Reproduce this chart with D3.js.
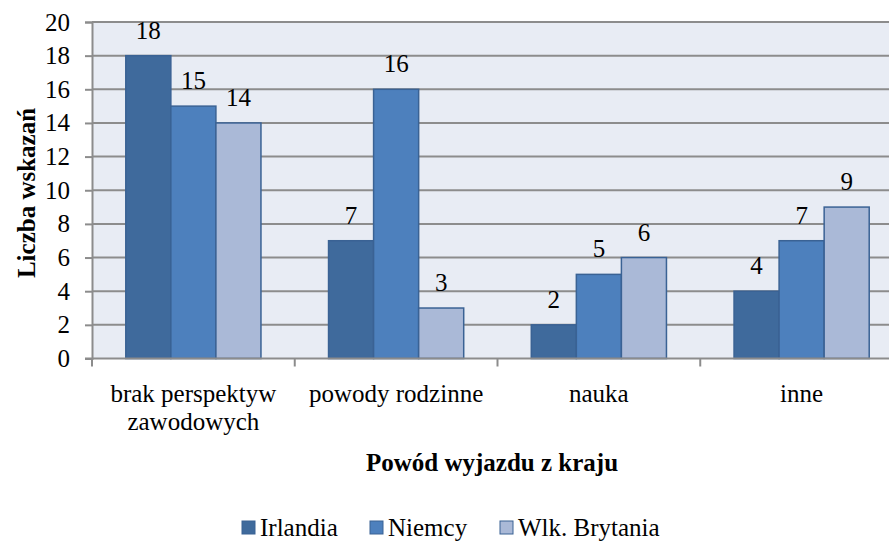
<!DOCTYPE html>
<html><head><meta charset="utf-8">
<script src="https://cdn.jsdelivr.net/npm/d3@7"></script>
<style>body{margin:0;background:#fff}svg{display:block}svg text{fill:#000}</style>
</head><body>
<svg id="c" width="889" height="542"></svg>
<script>
const categories = [["brak perspektyw","zawodowych"],["powody rodzinne"],["nauka"],["inne"]];
const seriesNames = ["Irlandia","Niemcy","Wlk. Brytania"];
const irlandia = [18,7,2,4];
const niemcy = [15,16,5,7];
const wlkBrytania = [14,3,6,9];
const yTicks = [0,2,4,6,8,10,12,14,16,18,20];
const colors = ["#3F6A9C","#4D80BD","#AAB9D7"];
const series = [irlandia, niemcy, wlkBrytania];

(function(){
const FF = "'Times New Roman', 'Liberation Serif', Tinos, 'DejaVu Serif', serif";
const FS = "25px";
const svg = d3.select("#c").style("font-family", FF);
const pLeft = 92, pRight = 903, pTop = 22, pBottom = 358.5;
const x = d3.scaleBand().domain(d3.range(categories.length)).range([pLeft, pRight]).paddingInner(0).paddingOuter(0);
const y = d3.scaleLinear().domain([0,20]).range([pBottom, pTop]);
const inner = d3.scaleBand().domain(d3.range(3)).range([0, x.bandwidth()]).paddingOuter(0.75).paddingInner(0);

svg.append("rect").attr("x",pLeft).attr("y",pTop).attr("width",pRight-pLeft).attr("height",pBottom-pTop).attr("fill","#E8ECF4");

svg.append("g").selectAll("line").data(yTicks.filter(d=>d>0)).join("line")
  .attr("x1",pLeft).attr("x2",pRight).attr("y1",d=>y(d)).attr("y2",d=>y(d))
  .attr("stroke","#8C8C8C").attr("stroke-width",2);

const g = svg.append("g");
series.forEach((s,si)=>{
  g.selectAll(".b"+si).data(s).join("rect").attr("class","b"+si)
    .attr("x",(d,i)=>x(i)+inner(si)).attr("y",d=>y(d))
    .attr("width",inner.bandwidth()).attr("height",d=>pBottom-y(d))
    .attr("fill",colors[si]).attr("stroke","#3A6294").attr("stroke-width",1.5);
  g.selectAll(".l"+si).data(s).join("text").attr("class","l"+si)
    .attr("x",(d,i)=>x(i)+inner(si)+inner.bandwidth()/2).attr("y",d=>y(d)-17)
    .attr("text-anchor","middle").style("font-size",FS).style("font-family",FF).text(d=>d);
});

const ya = svg.append("g").attr("transform",`translate(${pLeft},0)`)
  .call(d3.axisLeft(y).tickValues(yTicks).tickSize(7).tickPadding(15));
ya.attr("font-family",null).attr("font-size",null);
ya.select(".domain").attr("stroke","#8C8C8C").attr("stroke-width",2);
ya.selectAll(".tick line").attr("stroke","#8C8C8C").attr("stroke-width",2);
ya.selectAll(".tick text").style("font-size",FS).style("font-family",FF).attr("fill","#000");

const xa = svg.append("g").attr("transform",`translate(0,${pBottom})`);
xa.append("line").attr("x1",pLeft-7).attr("x2",pRight).attr("stroke","#8C8C8C").attr("stroke-width",2);
xa.selectAll(".t").data(d3.range(categories.length+1)).join("line").attr("class","t")
  .attr("x1",d=>pLeft+d*x.step()).attr("x2",d=>pLeft+d*x.step()).attr("y1",0).attr("y2",8)
  .attr("stroke","#8C8C8C").attr("stroke-width",2);
categories.forEach((c,i)=>{
  c.forEach((line,li)=>{
    svg.append("text").attr("x",x(i)+x.bandwidth()/2).attr("y",402+li*28)
      .attr("text-anchor","middle").style("font-size",FS).style("font-family",FF).text(line);
  });
});

svg.append("text").attr("x",492).attr("y",471).attr("text-anchor","middle")
  .style("font-size",FS).style("font-weight","bold").style("font-family",FF).text("Powód wyjazdu z kraju");
svg.append("text").attr("transform","translate(35,193) rotate(-90)").attr("text-anchor","middle")
  .style("font-size",FS).style("font-weight","bold").style("font-family",FF).text("Liczba wskazań");

const legX = [242, 370, 500];
const leg = svg.append("g");
seriesNames.forEach((n,i)=>{
  leg.append("rect").attr("x",legX[i]).attr("y",521).attr("width",13).attr("height",13)
    .attr("fill",colors[i]).attr("stroke","#3A6294").attr("stroke-width",1);
  leg.append("text").attr("x",legX[i]+18).attr("y",536).style("font-size",FS).style("font-family",FF).text(n);
});
})();
</script>
</body></html>
